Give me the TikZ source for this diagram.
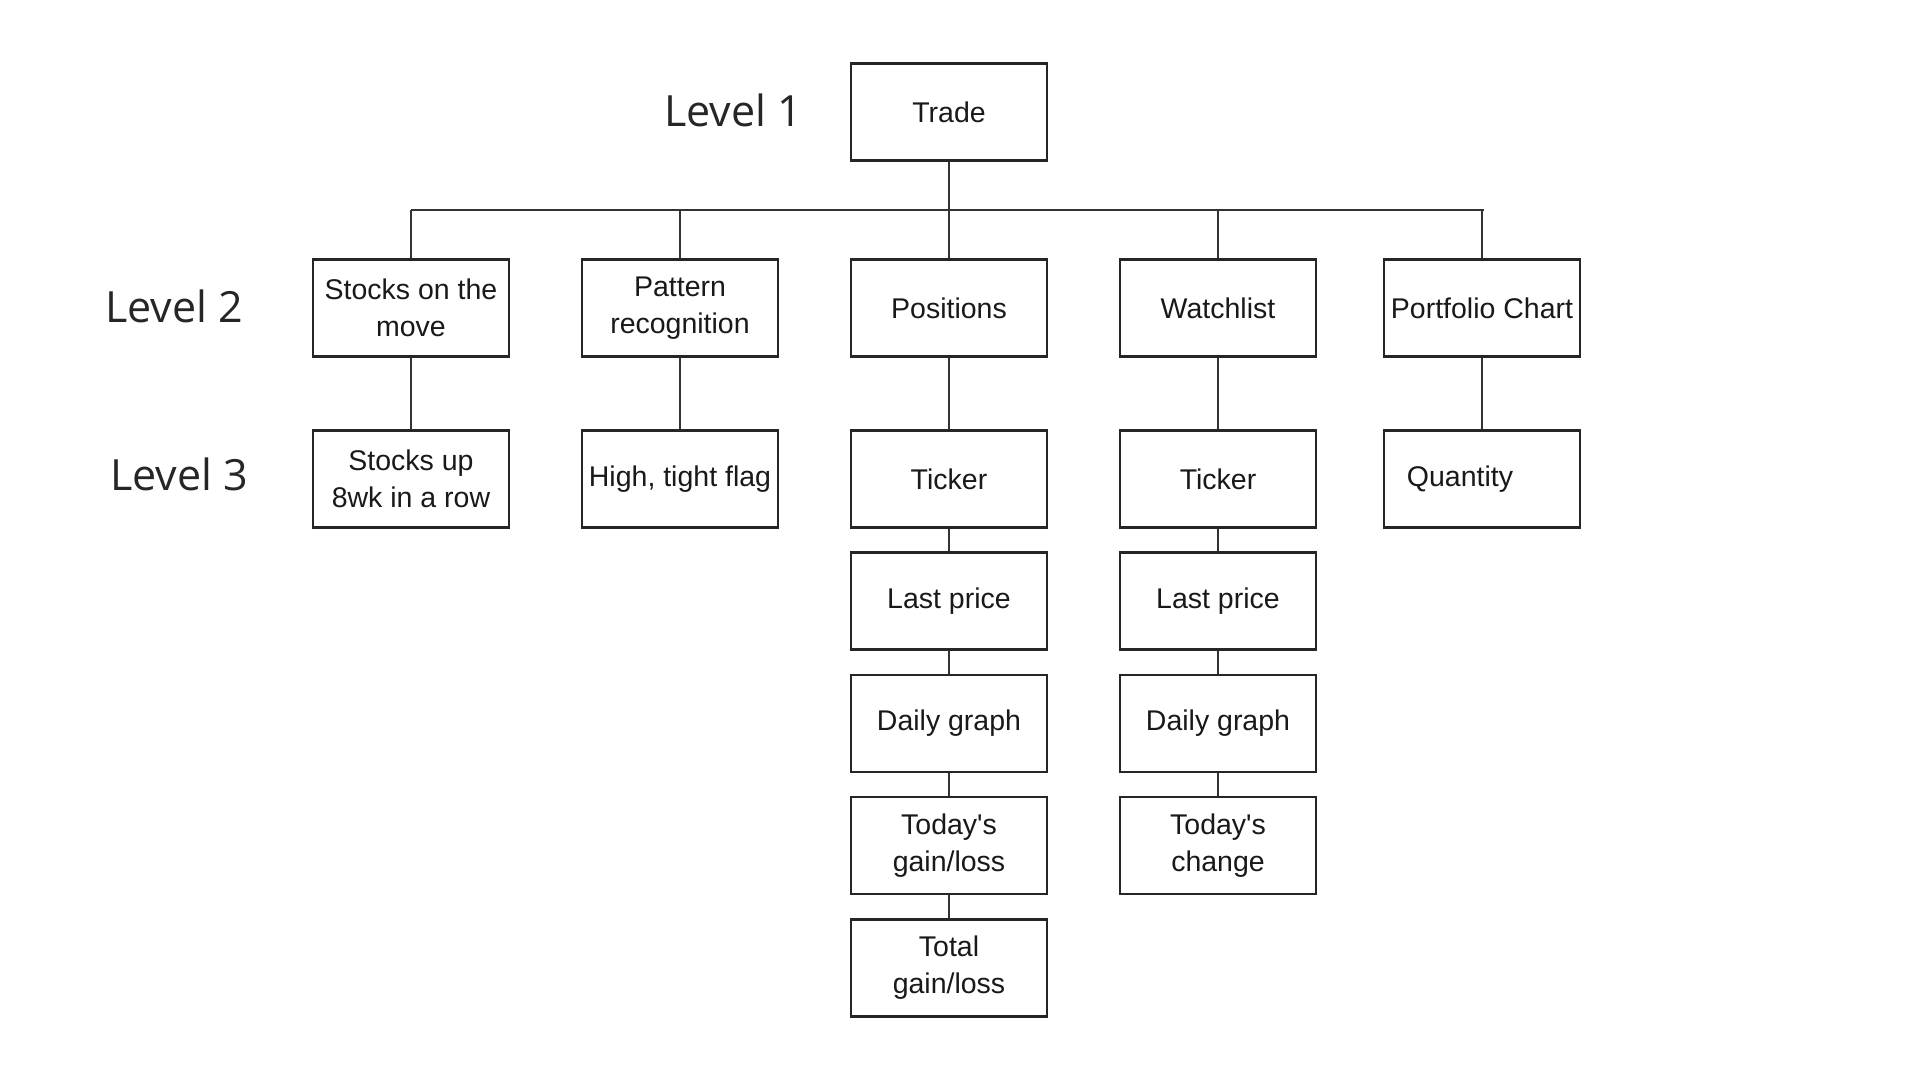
\documentclass[tikz,border=0pt]{standalone}
\usepackage{fontspec}
\setmainfont{Liberation Sans}
\newfontfamily\levelfont{Open Sans}
\newcommand{\apos}{{\fontspec{Liberation Sans}\char"0027}}
\begin{document}
\begin{tikzpicture}[x=1pt,y=-1pt,
  box/.style={draw=black!85, line width=2.2pt, fill=white, minimum width=196pt, minimum height=97pt,
    inner sep=0pt, align=center, text=black!90, font=\fontsize{28.5}{37}\selectfont},
  link/.style={draw=black!80, line width=2pt},
  lvl/.style={anchor=base west, inner sep=0pt, font=\levelfont\fontsize{43}{50}\selectfont, text=black!85}]
\useasboundingbox[fill=white] (0,0) rectangle (1920,1080);

% Level labels
\node[lvl] (l1) at (664,126) {Level 1};
\node[lvl] (l2) at (105,322) {Level 2};
\node[lvl] (l3) at (110,490) {Level 3};

% Level 1
\node[box] (trade) at (949,112) {Trade};

% Level 2
\node[box] (som) at (411,308) {Stocks on the\\move};
\node[box] (pat) at (680,308) {Pattern\\recognition};
\node[box] (pos) at (949,308) {Positions};
\node[box] (wat) at (1218,308) {Watchlist};
\node[box] (por) at (1482,308) {Portfolio Chart};

% Level 3
\node[box] (sup) at (411,479) {Stocks up\\8wk in a row};
\node[box] (htf) at (680,479) {High, tight flag};
\node[box] (pt1) at (949,479) {Ticker};
\node[box] (wt1) at (1218,479) {Ticker};
\node[box] (qty) at (1482,479) {Quantity\hspace*{44pt}};

% Positions column
\node[box] (pt2) at (949,601) {Last price};
\node[box] (pt3) at (949,723.5) {Daily graph};
\node[box] (pt4) at (949,845.5) {Today\apos s\\gain/loss};
\node[box] (pt5) at (949,968) {Total\\gain/loss};

% Watchlist column
\node[box] (wt2) at (1218,601) {Last price};
\node[box] (wt3) at (1218,723.5) {Daily graph};
\node[box] (wt4) at (1218,845.5) {Today\apos s\\change};

% bus
\coordinate (busL) at (411,210);
\coordinate (busR) at (1484,210);
\draw[link] (busL) -- (busR);
\draw[link] (trade.south) -- (trade.south |- busL);
\foreach \n in {som,pat,pos,wat,por}{
  \draw[link] (\n.north) -- (\n.north |- busL);
}

% vertical links
\draw[link] (som.south) -- (sup.north);
\draw[link] (pat.south) -- (htf.north);
\draw[link] (pos.south) -- (pt1.north);
\draw[link] (wat.south) -- (wt1.north);
\draw[link] (por.south) -- (qty.north);
\draw[link] (pt1.south) -- (pt2.north);
\draw[link] (pt2.south) -- (pt3.north);
\draw[link] (pt3.south) -- (pt4.north);
\draw[link] (pt4.south) -- (pt5.north);
\draw[link] (wt1.south) -- (wt2.north);
\draw[link] (wt2.south) -- (wt3.north);
\draw[link] (wt3.south) -- (wt4.north);
\end{tikzpicture}
\end{document}
